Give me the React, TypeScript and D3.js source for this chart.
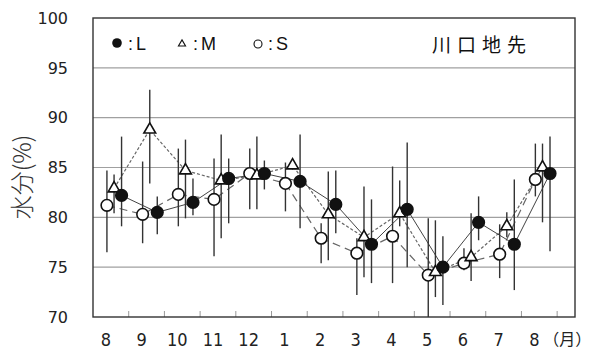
import * as d3 from 'd3';
import { useEffect, useRef } from 'react';

const months = ['8', '9', '10', '11', '12', '1', '2', '3', '4', '5', '6', '7', '8'];

const lMean = [82.2, 80.5, 81.5, 83.9, 84.4, 83.6, 81.3, 77.3, 80.8, 75.0, 79.5, 77.3, 84.4];
const lHigh = [88.1, 82.1, 83.9, 85.9, 85.7, 88.3, 84.7, 81.8, 87.5, 78.1, 82.1, 83.8, 88.1];
const lLow = [79.1, 78.3, 80.2, 79.4, 82.8, 78.9, 78.4, 73.4, 75.0, 71.2, 77.7, 72.7, 76.6];

const mMean = [82.9, 88.8, 84.7, 83.7, 84.2, 85.2, 80.3, 78.0, 80.4, 74.5, 76.0, 79.1, 85.0];
const mHigh = [84.3, 92.8, 87.8, 88.3, 88.1, 85.6, 84.6, 83.1, 83.7, 79.7, 80.4, 80.5, 87.4];
const mLow = [80.4, 83.4, 79.9, 77.9, 80.8, 84.8, 75.7, 74.0, 79.1, 72.0, 73.6, 78.0, 79.5];

const sMean = [81.2, 80.3, 82.3, 81.8, 84.4, 83.4, 77.9, 76.4, 78.1, 74.2, 75.4, 76.3, 83.8];
const sHigh = [84.7, 85.6, 86.9, 85.9, 86.9, 85.5, 79.4, 77.9, 85.1, 79.9, 76.9, 79.3, 87.4];
const sLow = [76.5, 77.4, 79.1, 76.1, 80.8, 80.6, 75.4, 72.2, 73.4, 70.0, 74.7, 73.9, 82.1];

const yTicks = [70, 75, 80, 85, 90, 95, 100];

export default function App() {
  const w = 591;
  const h = 356;
  const svgRef = useRef<SVGSVGElement>(null);

  useEffect(() => {
    if (svgRef.current == null) {
      return;
    }
    const svg = d3.select(svgRef.current).select('#change');
    svg.selectAll('*').remove();

    const left = 93;
    const right = 575;
    const top = 18;
    const bottom = 317;

    const xScale = d3.scaleLinear().domain([0, 13.5]).range([left, right]);
    const yScale = d3.scaleLinear().domain([70, 100]).range([bottom, top]);

    // grid
    svg
      .selectAll('.grid')
      .data(yTicks.slice(1, -1))
      .enter()
      .append('line')
      .attr('x1', left)
      .attr('x2', right)
      .attr('y1', (d) => yScale(d))
      .attr('y2', (d) => yScale(d))
      .attr('stroke', '#a0a0a0')
      .attr('stroke-width', 1.2);

    // y tick labels
    svg
      .selectAll('.ylab')
      .data(yTicks)
      .enter()
      .append('text')
      .attr('x', 68)
      .attr('y', (d) => yScale(d))
      .attr('dy', '0.36em')
      .attr('text-anchor', 'end')
      .style('font', '16px "DejaVu Sans"')
      .attr('fill', '#222')
      .text((d) => d);

    // x ticks inside the frame
    const tickIdx = d3.range(1, months.length + 1);
    svg
      .selectAll('.xtick')
      .data(tickIdx)
      .enter()
      .append('line')
      .attr('x1', (d) => xScale(d))
      .attr('x2', (d) => xScale(d))
      .attr('y1', bottom)
      .attr('y2', bottom - 6)
      .attr('stroke', '#999')
      .attr('stroke-width', 1);

    // x labels
    svg
      .selectAll('.xlab')
      .data(months)
      .enter()
      .append('text')
      .attr('x', (_d, i) => xScale(i + 0.36))
      .attr('y', 346)
      .attr('text-anchor', 'middle')
      .style('font', '18px "DejaVu Sans Condensed", "DejaVu Sans"')
      .attr('fill', '#222')
      .text((d) => d);
    svg
      .append('text')
      .attr('x', xScale(months.length + 0.28))
      .attr('y', 345)
      .attr('text-anchor', 'middle')
      .style('font', '16px "Noto Sans CJK JP"')
      .attr('fill', '#222')
      .text('（月）');

    // y axis title
    svg
      .append('text')
      .attr('transform', 'translate(20,177) rotate(-90)')
      .attr('text-anchor', 'middle')
      .attr('dominant-baseline', 'central')
      .style('font', '300 24px "Noto Sans CJK JP"')
      .attr('fill', '#333')
      .text('水分(%)');

    const series = [
      { mean: sMean, hi: sHigh, lo: sLow, off: 0.39, dash: '8,5', kind: 'S' },
      { mean: mMean, hi: mHigh, lo: mLow, off: 0.59, dash: '3,2', kind: 'M' },
      { mean: lMean, hi: lHigh, lo: lLow, off: 0.8, dash: null, kind: 'L' },
    ];

    // connecting lines
    series.forEach((s) => {
      const ln = d3
        .line<number>()
        .x((_d, i) => xScale(i + s.off))
        .y((d) => yScale(d));
      const p = svg
        .append('path')
        .attr('d', ln(s.mean))
        .attr('fill', 'none')
        .attr('stroke', s.kind == 'L' ? '#444' : '#666')
        .attr('stroke-width', s.kind == 'L' ? 1 : 1.2);
      if (s.dash) p.attr('stroke-dasharray', s.dash);
    });

    // error bars
    series.forEach((s) => {
      svg
        .append('g')
        .selectAll('line')
        .data(s.mean)
        .enter()
        .append('line')
        .attr('x1', (_d, i) => xScale(i + s.off))
        .attr('x2', (_d, i) => xScale(i + s.off))
        .attr('y1', (_d, i) => yScale(s.hi[i]))
        .attr('y2', (_d, i) => yScale(s.lo[i]))
        .attr('stroke', '#333')
        .attr('stroke-width', 1.4);
    });

    // markers
    series.forEach((s) => {
      const g = svg.append('g');
      if (s.kind == 'M') {
        g.selectAll('path')
          .data(s.mean)
          .enter()
          .append('path')
          .attr('d', d3.symbol(d3.symbolTriangle, 60)())
          .attr('transform', (d, i) => `translate(${xScale(i + s.off)},${yScale(d)})`)
          .attr('fill', 'white')
          .attr('stroke', '#111')
          .attr('stroke-width', 1.6);
      } else {
        g.selectAll('circle')
          .data(s.mean)
          .enter()
          .append('circle')
          .attr('cx', (_d, i) => xScale(i + s.off))
          .attr('cy', (d) => yScale(d))
          .attr('r', 5.8)
          .attr('fill', s.kind == 'L' ? '#111' : 'white')
          .attr('stroke', '#111')
          .attr('stroke-width', 1.6);
      }
    });

    // frame
    svg
      .append('rect')
      .attr('x', left)
      .attr('y', top)
      .attr('width', right - left)
      .attr('height', bottom - top)
      .attr('fill', 'none')
      .attr('stroke', '#333')
      .attr('stroke-width', 1.4);

    // legend
    const lg = svg
      .append('g')
      .style('font', '18px "Liberation Sans", Arial')
      .style('letter-spacing', '3px')
      .attr('fill', '#111');
    lg.append('circle').attr('cx', 117).attr('cy', 43).attr('r', 4.8).attr('fill', '#111');
    lg.append('text').attr('x', 128).attr('y', 50).text(':L');
    lg.append('path')
      .attr('d', d3.symbol(d3.symbolTriangle, 22)())
      .attr('transform', 'translate(182,44)')
      .attr('fill', 'white')
      .attr('stroke', '#111')
      .attr('stroke-width', 1.1);
    lg.append('text').attr('x', 193).attr('y', 50).text(':M');
    lg.append('circle')
      .attr('cx', 258)
      .attr('cy', 44)
      .attr('r', 4)
      .attr('fill', 'white')
      .attr('stroke', '#111')
      .attr('stroke-width', 1.1);
    lg.append('text').attr('x', 268).attr('y', 50).text(':S');

    svg
      .append('text')
      .attr('x', 432)
      .attr('y', 52)
      .style('font', '400 19px "Noto Sans CJK JP"')
      .style('letter-spacing', '6px')
      .attr('fill', '#111')
      .text('川口地先');
  }, []);

  return (
    <svg
      ref={svgRef}
      width={w}
      height={h}
      style={{ position: 'absolute', left: 0, top: 0, background: 'white' }}
    >
      <g id='change'></g>
    </svg>
  );
}
